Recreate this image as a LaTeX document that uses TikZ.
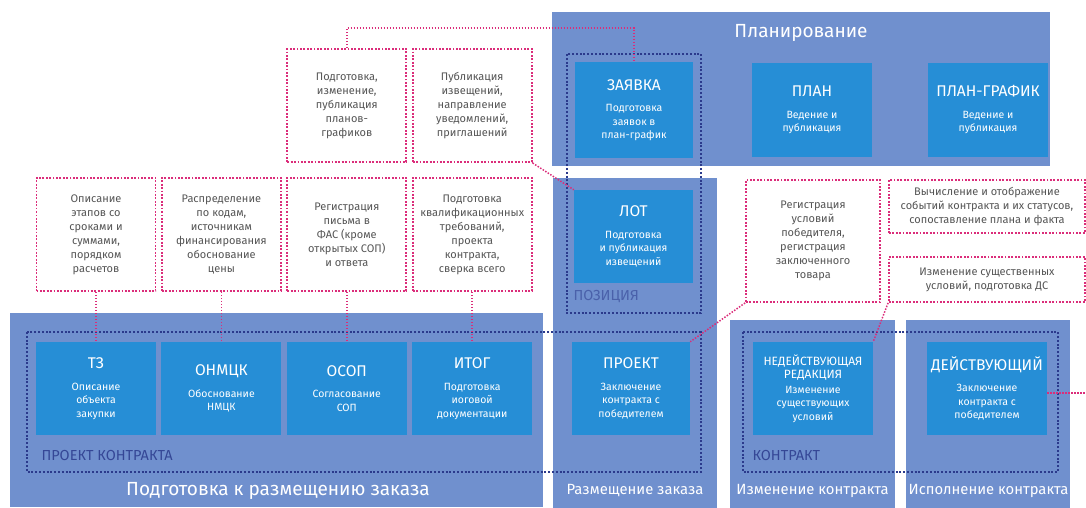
\documentclass[tikz,border=0pt]{standalone}
\usepackage{fontspec}
\setmainfont{Fira Sans}
\usepackage{xcolor}
\usepackage{tikz}
\usetikzlibrary{positioning}
\definecolor{panelblue}{HTML}{7090CE}
\definecolor{stageblue}{HTML}{268ED6}
\definecolor{groupnavy}{HTML}{2B3A8C}
\definecolor{linkpink}{HTML}{DB2D7A}
\definecolor{notegray}{HTML}{555555}
\tikzstyle{panel} = [rectangle, fill=panelblue, inner sep=0pt]
\tikzstyle{stage} = [rectangle, fill=stageblue, text=white, minimum width=120pt, minimum height=93pt, align=center, inner sep=2pt, font=\fontsize{10.5}{13.5}\selectfont]
\tikzstyle{note} = [rectangle, draw=linkpink, line width=1.8pt, dash pattern=on 1.8pt off 1.6pt, fill=white, minimum width=119pt, minimum height=113pt, align=center, text=notegray, inner sep=2pt, font=\fontsize{11}{14}\selectfont]
\tikzstyle{group} = [draw=groupnavy, line width=2pt, dash pattern=on 2pt off 1.8pt]
\tikzstyle{link} = [draw=linkpink, line width=1.5pt, dash pattern=on 1.5pt off 1.5pt]
\tikzstyle{ptitle} = [text=white, font=\fontsize{19}{22}\selectfont]
\tikzstyle{btitle} = [text=white, font=\fontsize{14.8}{18}\selectfont]
\tikzstyle{glabel} = [text=groupnavy!85!panelblue, anchor=west, font=\fontsize{14.5}{16}\selectfont]
\newcommand{\stitle}[1]{{\fontsize{15.5}{17}\selectfont #1}\\[8pt]}
\newcommand{\ssmall}[1]{{\fontsize{12}{14}\selectfont #1}}

\begin{document}
\begin{tikzpicture}[x=1pt, y=-1pt, node distance=5pt]
\useasboundingbox (0,0) rectangle (1086,508);

\node[panel, minimum width=498pt, minimum height=154pt] (planning) at (801,89) {};
\node[panel, minimum width=533pt, minimum height=194pt] (prep) at (276.5,410) {};
\node[panel, minimum width=164pt, minimum height=330pt] (place) at (635,343) {};
\node[panel, minimum width=165pt, minimum height=188pt] (change) at (812.5,414) {};
\node[panel, minimum width=164pt, minimum height=188pt] (exec) at (988,414) {};

\node[ptitle] (planningt) at (801,33) {Планирование};
\node[ptitle] (prept) at (278,491) {Подготовка к размещению заказа};
\node[btitle] (placet) at (635,491) {Размещение заказа};
\node[btitle] (changet) at (812.5,491) {Изменение контракта};
\node[btitle] (exect) at (988.5,491) {Исполнение контракта};

\draw[group] (567,54) rectangle (701,313);
\draw[group] (27,332) rectangle (701,472);
\draw[group] (743,332) rectangle (1058,472);
\node[glabel, text=groupnavy!55!panelblue] (pozlabel) at (570,297) {ПОЗИЦИЯ};
\node[glabel] (projlabel) at (38,455) {ПРОЕКТ КОНТРАКТА};
\node[glabel] (contrlabel) at (749,455) {КОНТРАКТ};

\node[stage, minimum width=118pt, minimum height=96pt] (zayavka) at (634,110) {\stitle{ЗАЯВКА}Подготовка\\заявок в\\план-график};
\node[stage] (plan) at (812,110) {\stitle{ПЛАН}Ведение и\\публикация};
\node[stage] (plangraf) at (988,110) {\stitle{ПЛАН-ГРАФИК}Ведение и\\публикация};
\node[stage, minimum width=119pt] (lot) at (633.5,236.5) {\stitle{ЛОТ}Подготовка\\и публикация\\извещений};

\node[stage] (tz) at (96,388.5) {\stitle{ТЗ}Описание\\объекта\\закупки};
\node[stage, right=of tz] (onmck) {\stitle{ОНМЦК}Обоснование\\НМЦК};
\node[stage, right=of onmck] (osop) {\stitle{ОСОП}Согласование\\СОП};
\node[stage, right=of osop] (itog) {\stitle{ИТОГ}Подготовка\\иоговой\\документации};
\node[stage, minimum width=118pt] (proekt) at (631,388.5) {\stitle{ПРОЕКТ}Заключение\\контракта с\\победителем};
\node[stage] (nedeist) at (813,388.5) {\ssmall{НЕДЕЙСТВУЮЩАЯ}\\\ssmall{РЕДАКЦИЯ}\\[1pt]Изменение\\существующих\\условий};
\node[stage] (deist) at (987,388.5) {\stitle{ДЕЙСТВУЮЩИЙ}Заключение\\контракта с\\победителем};

\node[note, above=50pt of tz] (tzn) {Описание\\этапов со\\сроками и\\суммами,\\порядком\\расчетов};
\node[note, above=50pt of onmck] (onmckn) {Распределение\\по кодам,\\источникам\\финансирования\\обоснование\\цены};
\node[note, above=50pt of osop] (osopn) {Регистрация\\письма в\\ФАС (кроме\\открытых СОП)\\и ответа};
\node[note, above=50pt of itog] (itogn) {Подготовка\\квалификационных\\требований,\\проекта\\контракта,\\сверка всего};
\node[note, above=14pt of osopn] (plann) {Подготовка,\\изменение,\\публикация\\планов-\\графиков};
\node[note, above=14pt of itogn] (pubn) {Публикация\\извещений,\\направление\\уведомлений,\\приглашений};
\node[note, minimum width=134pt, minimum height=122pt] (regn) at (813,241) {Регистрация\\условий\\победителя,\\регистрация\\заключенного\\товара};
\node[note, minimum width=196pt, minimum height=53pt] (calcn) at (987,206.5) {Вычисление и отображение\\событий контракта и их статусов,\\сопоставление плана и факта};
\node[note, minimum width=196pt, minimum height=45pt] (izmn) at (987,279.5) {Изменение существенных\\условий, подготовка ДС};

\coordinate (bend) at (634,28);
\coordinate (rightedge) at (1086,393);

\draw[link] (plann.north) |- (bend) -- (zayavka.north);
\draw[link] (pubn.south east) -- (lot.north west);
\draw[link] (tzn) -- (tz);
\draw[link] (onmckn) -- (onmck);
\draw[link] (osopn) -- (osop);
\draw[link] (itogn) -- (itog);
\draw[link] (regn.south west) -- (proekt.north east);
\draw[link] (izmn.south west) -- (nedeist.north east);
\draw[link] (deist.east |- rightedge) -- (rightedge);
\end{tikzpicture}
\end{document}
